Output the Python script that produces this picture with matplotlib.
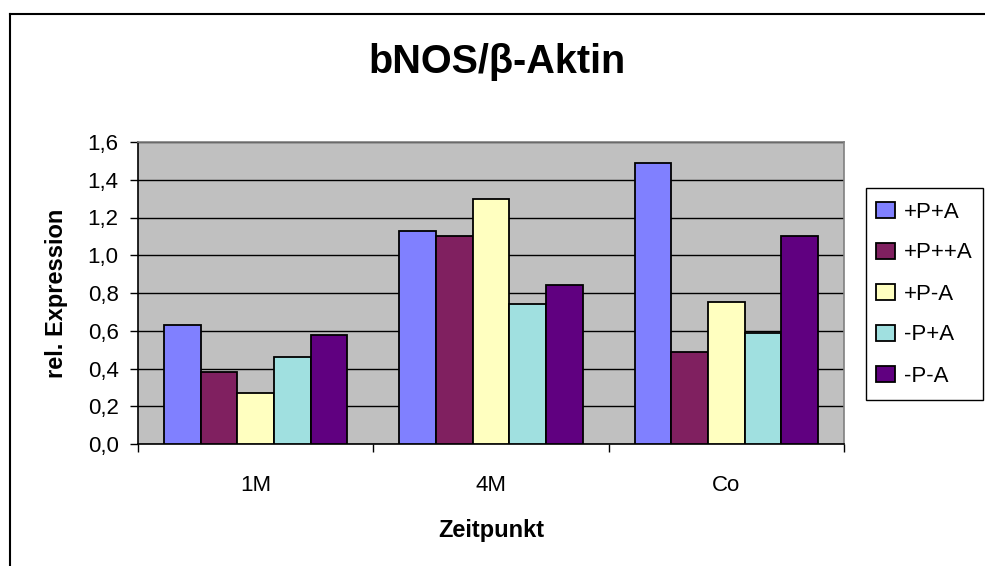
import matplotlib
matplotlib.use("Agg")
import matplotlib.pyplot as plt
import numpy as np
from matplotlib.lines import Line2D
from matplotlib.patches import Rectangle

plt.rcParams['font.family'] = ['Liberation Sans', 'DejaVu Sans']

categories = ["1M", "4M", "Co"]
series_names = ["+P+A", "+P++A", "+P-A", "-P+A", "-P-A"]
values_pPA = [0.63, 1.13, 1.49]
values_pPppA = [0.38, 1.10, 0.49]
values_pPmA = [0.27, 1.30, 0.75]
values_mPpA = [0.46, 0.74, 0.59]
values_mPmA = [0.58, 0.84, 1.10]
colors = ["#8080FF", "#802060", "#FFFFC0", "#A0E0E0", "#600080"]
yticks = [0.0, 0.2, 0.4, 0.6, 0.8, 1.0, 1.2, 1.4, 1.6]

series = [values_pPA, values_pPppA, values_pPmA, values_mPpA, values_mPmA]

W, H = 985, 566
fig = plt.figure(figsize=(W / 100, H / 100), dpi=100)
ax = fig.add_axes([138 / W, 1 - 444 / H, (844 - 138) / W, (444 - 142) / H])
ax.set_facecolor("#C0C0C0")

x = np.arange(len(categories))
bw = 0.156
n = len(series)
for i, (vals, col, name) in enumerate(zip(series, colors, series_names)):
    offs = (i - (n - 1) / 2) * bw
    ax.bar(x + offs, vals, width=bw, color=col, edgecolor="black",
           linewidth=1.3, label=name, zorder=3)

ax.set_xlim(-0.5, len(categories) - 0.5)
ax.set_ylim(0, 1.6)
ax.set_yticks(yticks)
ax.set_yticklabels([f"{t:.1f}".replace(".", ",") for t in yticks], fontsize=16)
ax.yaxis.grid(True, color="black", linewidth=1.0, zorder=1)
ax.set_axisbelow(True)

# category boundaries carry the tick marks, centres carry the labels
ax.set_xticks(np.arange(-0.5, len(categories), 1.0))
ax.set_xticklabels([])
ax.set_xticks(x, minor=True)
ax.set_xticklabels(categories, minor=True, fontsize=16)
ax.tick_params(axis="x", which="major", length=6, width=1, direction="out")
ax.tick_params(axis="x", which="minor", length=0, pad=22)
ax.tick_params(axis="y", length=6, width=1, direction="out", pad=8)

for side in ["top", "right"]:
    ax.spines[side].set_color("#808080")
    ax.spines[side].set_linewidth(1.2)
for side in ["left", "bottom"]:
    ax.spines[side].set_color("black")
    ax.spines[side].set_linewidth(1.2)

fig.text(497 / W, 1 - 73 / H, "bNOS/β-Aktin", ha="center", va="baseline",
         fontsize=28.5, fontweight="bold")
fig.text(491 / W, 1 - 531 / H, "Zeitpunkt", ha="center", va="center",
         fontsize=17, fontweight="bold")
fig.text(56 / W, 1 - 293 / H, "rel. Expression", ha="center", va="center",
         rotation=90, fontsize=17, fontweight="bold")

# legend box drawn separately so its size is independent of the padding
lx0, lx1, ly0, ly1 = 866, 983, 188, 400
fig.add_artist(Rectangle((lx0 / W, 1 - ly1 / H), (lx1 - lx0) / W, (ly1 - ly0) / H,
                         transform=fig.transFigure, facecolor="white",
                         edgecolor="black", linewidth=1.0, zorder=1))
leg = fig.legend(loc="center", bbox_to_anchor=((lx0 + lx1) / 2 / W, 1 - (ly0 + ly1) / 2 / H),
                 bbox_transform=fig.transFigure, borderaxespad=0, borderpad=0,
                 fontsize=16, frameon=False,
                 handlelength=0.85, handleheight=0.7,
                 handletextpad=0.4, labelspacing=0.9)
leg.set_zorder(2)

# outer chart frame (only the top and left edges fall inside the image)
fig.add_artist(Line2D([10 / W, 10 / W], [0, 1 - 14 / H], transform=fig.transFigure,
                      color="black", linewidth=1.5))
fig.add_artist(Line2D([10 / W, 1], [1 - 14 / H, 1 - 14 / H], transform=fig.transFigure,
                      color="black", linewidth=1.5))

fig.savefig("out.png", dpi=100, facecolor="white")
